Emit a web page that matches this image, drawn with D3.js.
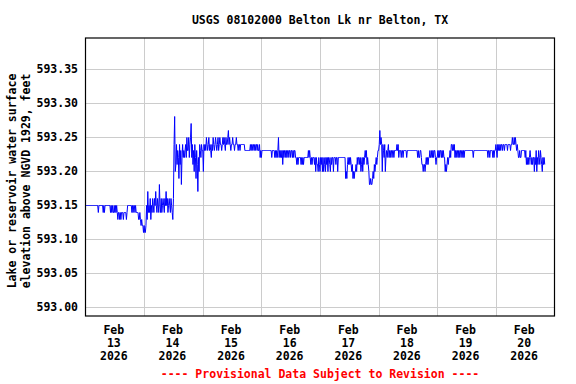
<!DOCTYPE html>
<html>
<head>
<meta charset="utf-8">
<script src="https://cdn.jsdelivr.net/npm/d3@7"></script>
<style>
  body { margin: 0; background: #fff; }
  svg text { font-family: "DejaVu Sans Mono", monospace; font-weight: bold; font-size: 11.5px; }
</style>
</head>
<body>
<div id="chart"></div>
<script>
// gage height readings, 15-minute interval, hundredths of a foot above 593.00
var feb13 = [15,15,15,15, 15,15,15,15, 15,15,15,15, 15,15,15,15, 15,15,15,15,
    15,14,15,15, 15,15,15,15, 15,14,15,14, 15,15,15,15, 15,15,15,15,
    15,14,15,14, 15,14,14,15, 14,15,14,15, 14,13,14,14, 13,14,13,14,
    14,14,13,14, 14,14,14,13, 14,15,15,15, 15,15,15,15, 14,15,14,15,
    15,14,15,14, 14,14,14,13, 13,14,13,12, 13,12,12,11];
var feb14 = [12,11,11,12, 15,13,17,14, 15,14,16,13, 15,14,16,15, 14,16,15,17,
    15,14,16,15, 14,18,15,14, 16,14,15,16, 15,14,16,15, 17,15,16,14,
    15,16,15,14, 16,15,14,13, 16,24,28,20, 21,24,21,23, 22,19,24,21,
    23,18,22,24, 22,23,22,23, 24,22,25,23, 23,25,22,24, 25,27,22,24,
    21,23,20,24, 22,19,23,21, 17,22,20,24, 23,22,24,23];
var feb15 = [23,20,24,23, 24,23,25,24, 23,24,25,23, 24,23,22,24, 23,25,24,23,
    24,25,24,23, 24,25,23,24, 25,24,24,23, 24,25,24,25, 24,23,25,24,
    24,25,26,24, 25,24,23,24, 24,25,24,24, 23,24,24,25, 24,24,23,24,
    24,23,24,24, 24,24,24,24, 24,23,23,23, 23,23,23,23, 23,23,24,23,
    24,23,24,24, 23,24,23,24, 24,23,24,23, 23,24,22,23];
var feb16 = [22,23,23,23, 23,23,23,23, 23,23,23,23, 23,23,23,23, 23,22,23,23,
    23,23,22,23, 22,23,22,23, 25,22,23,22, 23,22,23,21, 23,22,23,23,
    22,23,22,23, 23,22,23,23, 22,23,23,22, 23,22,23,23, 22,22,21,22,
    21,22,22,22, 22,21,22,21, 22,21,22,22, 22,22,22,22, 22,23,22,23,
    22,21,22,21, 22,22,22,21, 22,20,22,21, 21,20,22,21];
var feb17 = [20,22,21,22, 20,22,20,21, 22,20,22,21, 22,20,22,22, 21,20,22,21,
    22,22,20,22, 22,22,21,22, 22,20,22,22, 22,22,22,22, 22,22,22,22,
    22,22,19,20, 19,21,22,21, 22,21,22,21, 20,21,19,20, 19,20,20,21,
    20,22,21,22, 22,21,22,20, 21,22,20,22, 21,22,23,22, 23,21,22,21,
    20,18,18,19, 18,18,19,20, 19,21,20,21, 22,21,22,23];
var feb18 = [23,24,26,24, 25,24,20,24, 23,22,24,20, 22,23,22,23, 24,22,23,22,
    23,23,22,23, 23,22,23,23, 23,23,24,23, 24,22,23,23, 23,22,23,23,
    22,23,23,23, 23,23,22,23, 23,23,23,23, 23,23,23,23, 23,23,23,23,
    23,23,23,23, 22,23,22,22, 23,23,22,21, 21,20,21,21, 20,21,22,21,
    22,21,22,22, 23,22,22,23, 22,23,22,23, 23,22,21,22];
var feb19 = [22,23,22,23, 22,23,23,22, 23,22,23,22, 22,20,21,20, 21,22,21,22,
    22,23,22,24, 24,23,24,23, 24,22,23,22, 23,23,22,23, 22,23,23,22,
    23,23,22,23, 22,23,23,23, 23,23,23,23, 23,23,23,23, 23,23,23,22,
    23,23,23,23, 23,23,23,23, 23,23,23,23, 23,23,23,23, 23,23,23,23,
    23,23,23,22, 23,23,22,23, 23,23,23,22, 23,22,23,23];
var feb20 = [24,23,22,24, 23,24,23,24, 23,24,24,23, 24,24,23,24, 24,24,24,23,
    24,24,24,24, 23,24,24,25, 24,24,25,24, 25,24,23,24, 23,22,22,23,
    22,22,23,23, 23,23,23,23, 22,23,21,22, 21,22,21,22, 23,22,21,22,
    21,22,22,20, 22,21,23,20, 22,21,23,22, 21,23,22,21, 20,22,21,22,
    21];

var dayLabels = ["13", "14", "15", "16", "17", "18", "19", "20"];
var yTicks = [593.00, 593.05, 593.10, 593.15, 593.20, 593.25, 593.30, 593.35];
var titleText = "USGS 08102000 Belton Lk nr Belton, TX";
var yLabelLines = ["Lake or reservoir water surface", "elevation above NGVD 1929, feet"];
var footerText = "---- Provisional Data Subject to Revision ----";

var width = 576, height = 384;
var margin = {top: 38, right: 21.5, bottom: 68, left: 85.5};

var start = Date.UTC(2026, 1, 13);
var dayMs = 24 * 3600 * 1000;
var series = [feb13, feb14, feb15, feb16, feb17, feb18, feb19, feb20].flat()
    .map(function(v, i) {
        return {t: new Date(start + i * 15 * 60 * 1000), v: 593 + v / 100};
    });

var svg = d3.select("#chart").append("svg")
    .attr("width", width)
    .attr("height", height);

var x = d3.scaleUtc()
    .domain([new Date(start), new Date(start + 8 * dayMs)])
    .range([margin.left, width - margin.right]);
var y = d3.scaleLinear()
    .domain([592.987, 593.395])
    .range([height - margin.bottom, margin.top]);

// grid
var midnights = d3.range(1, 8).map(function(d) { return new Date(start + d * dayMs); });
svg.append("g").selectAll("line.v")
    .data(midnights).enter().append("line")
    .attr("x1", d => Math.round(x(d)) + 0.5).attr("x2", d => Math.round(x(d)) + 0.5)
    .attr("y1", margin.top).attr("y2", height - margin.bottom)
    .attr("stroke", "#cccccc");
svg.append("g").selectAll("line.h")
    .data(yTicks).enter().append("line")
    .attr("x1", margin.left).attr("x2", width - margin.right)
    .attr("y1", d => Math.round(y(d)) + 0.5).attr("y2", d => Math.round(y(d)) + 0.5)
    .attr("stroke", "#cccccc");

// data
var line = d3.line()
    .x(d => x(d.t))
    .y(d => Math.round(y(d.v)) + 0.5);
svg.append("path")
    .datum(series)
    .attr("d", line)
    .attr("fill", "none")
    .attr("stroke", "#0000ff")
    .attr("stroke-width", 1);

// frame
svg.append("rect")
    .attr("x", margin.left).attr("y", margin.top)
    .attr("width", width - margin.left - margin.right)
    .attr("height", height - margin.top - margin.bottom)
    .attr("fill", "none")
    .attr("stroke", "#000")
    .attr("stroke-width", 1.2);

// y tick labels
svg.append("g").selectAll("text")
    .data(yTicks).enter().append("text")
    .attr("x", 78)
    .attr("y", d => y(d) + 4)
    .attr("text-anchor", "end")
    .text(d => d.toFixed(2));

// x tick labels at noon
var noons = dayLabels.map(function(d, i) { return {day: d, t: new Date(start + i * dayMs + dayMs / 2)}; });
var xl = svg.append("g").selectAll("text")
    .data(noons).enter().append("text")
    .attr("text-anchor", "middle")
    .attr("transform", d => `translate(${x(d.t) - 1}, 334)`);
xl.append("tspan").attr("x", 0).attr("y", 0).text("Feb");
xl.append("tspan").attr("x", 0).attr("y", 13).text(d => d.day);
xl.append("tspan").attr("x", 0).attr("y", 26).text("2026");

// title
svg.append("text")
    .attr("x", (margin.left + width - margin.right) / 2)
    .attr("y", 24)
    .attr("text-anchor", "middle")
    .text(titleText);

// y axis title
var yl = svg.append("text")
    .attr("text-anchor", "middle")
    .attr("transform", "translate(0, 181) rotate(-90)");
yLabelLines.forEach(function(t, i) {
    yl.append("tspan").attr("x", 0).attr("y", 16 + i * 13.5).text(t);
});

// footer
svg.append("text")
    .attr("x", (margin.left + width - margin.right) / 2)
    .attr("y", 378)
    .attr("text-anchor", "middle")
    .attr("fill", "#ff0000")
    .text(footerText);
</script>
</body>
</html>
